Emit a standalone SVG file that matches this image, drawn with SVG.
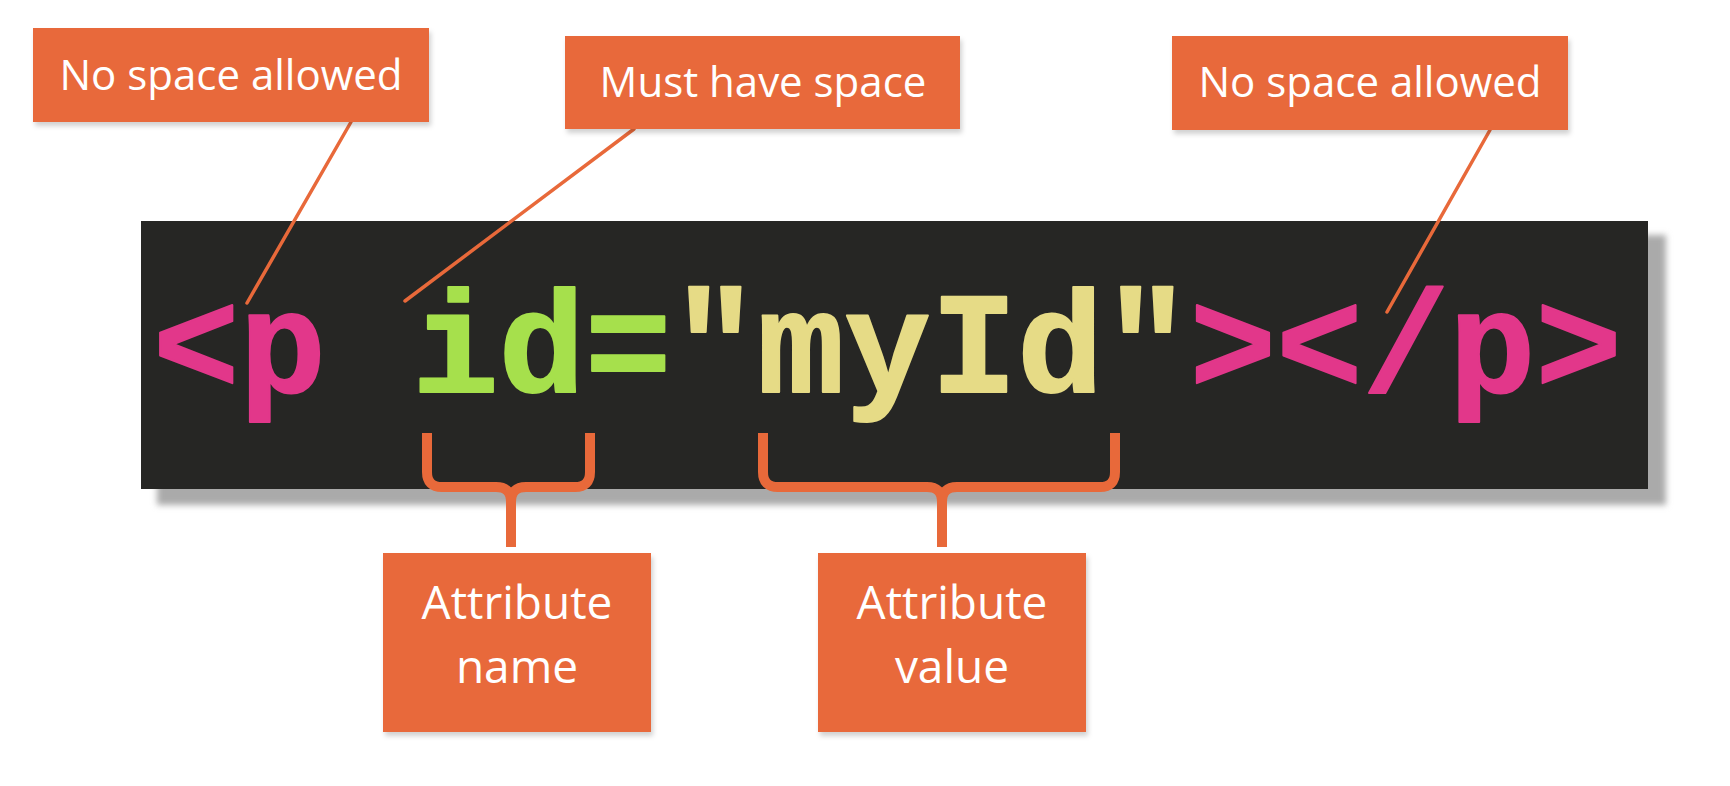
<svg xmlns="http://www.w3.org/2000/svg" width="1730" height="786" viewBox="0 0 1730 786">
<defs>
<filter id="boxshadow" x="-10%" y="-10%" width="130%" height="140%">
<feDropShadow dx="2" dy="4" stdDeviation="2.5" flood-color="#000" flood-opacity="0.18"/>
</filter>
<filter id="blur" x="-5%" y="-10%" width="110%" height="130%">
<feGaussianBlur stdDeviation="3"/>
</filter>
</defs>
<style>
.box{fill:#e8693a;filter:url(#boxshadow)}
.lbl{font-family:"Open Sans","Liberation Sans",sans-serif;fill:#ffffff;text-anchor:middle}
.top{font-size:42px}
.bot{font-size:46px}
.code{font-family:"Liberation Mono","Courier New",monospace;font-weight:bold;font-size:144px;stroke-linejoin:round;stroke-width:2}
.pink{fill:#e2378a;stroke:#e2378a}
.green{fill:#a6e04c;stroke:#a6e04c}
.yellow{fill:#e6db86;stroke:#e6db86}
.conn{stroke:#e8693a;stroke-width:3.5;fill:none;stroke-linecap:round}
.brace{stroke:#e8693a;stroke-width:10;fill:none;stroke-linejoin:round}
</style>
<rect x="0" y="0" width="1730" height="786" fill="#ffffff"/>

<g id="codebar">
<rect x="157" y="235" width="1509" height="270" fill="#aaaaaa" filter="url(#blur)"/>
<rect x="141" y="221" width="1507" height="268" fill="#262624"/>
<text class="code" y="392">
<tspan class="pink" x="153">&lt;p</tspan>
<tspan class="green" x="412.2">id=</tspan>
<tspan class="yellow" x="671.4">"myId"</tspan>
<tspan class="pink" x="1189.8">&gt;&lt;/p&gt;</tspan>
</text>
</g>

<g id="connectors">
<line class="conn" x1="351" y1="122" x2="247" y2="303"/>
<line class="conn" x1="634" y1="129" x2="405" y2="301"/>
<line class="conn" x1="1490" y1="130" x2="1387" y2="312"/>
<path class="brace" d="M427,433 L427,472 Q427,487 442,487 L496,487 Q511,487 511,502 L511,547 M511,502 Q511,487 526,487 L575,487 Q590,487 590,472 L590,433"/>
<path class="brace" d="M763,433 L763,472 Q763,487 778,487 L927,487 Q942,487 942,502 L942,547 M942,502 Q942,487 957,487 L1100,487 Q1115,487 1115,472 L1115,433"/>
</g>

<g id="label-no-space-1">
<rect class="box" x="33" y="28" width="396" height="94"/>
<text class="lbl top" x="231" y="90">No space allowed</text>
</g>
<g id="label-must-have-space">
<rect class="box" x="565" y="36" width="395" height="93"/>
<text class="lbl top" x="763" y="97">Must have space</text>
</g>
<g id="label-no-space-2">
<rect class="box" x="1172" y="36" width="396" height="94"/>
<text class="lbl top" x="1370" y="97">No space allowed</text>
</g>
<g id="label-attr-name">
<rect class="box" x="383" y="553" width="268" height="179"/>
<text class="lbl bot" x="517" y="619">Attribute</text>
<text class="lbl bot" x="517" y="683">name</text>
</g>
<g id="label-attr-value">
<rect class="box" x="818" y="553" width="268" height="179"/>
<text class="lbl bot" x="952" y="619">Attribute</text>
<text class="lbl bot" x="952" y="683">value</text>
</g>
</svg>
